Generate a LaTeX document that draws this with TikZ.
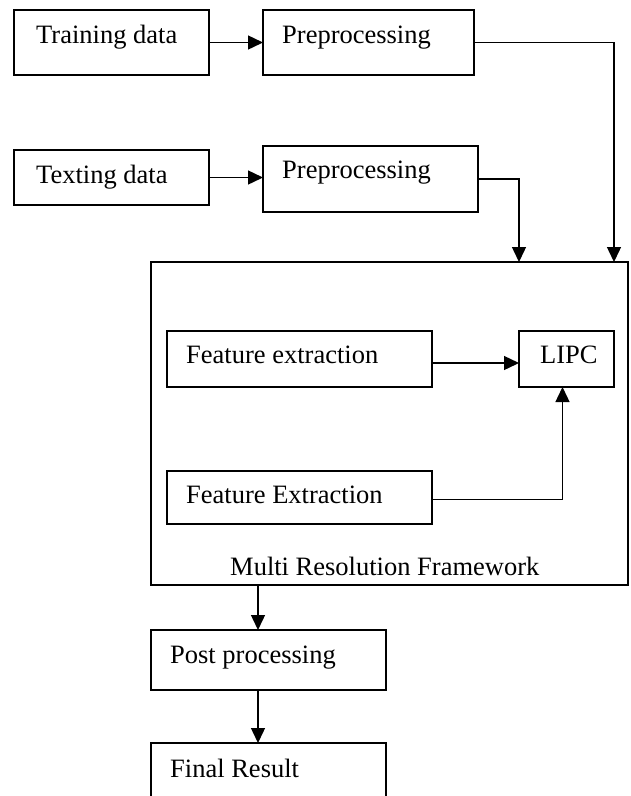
\documentclass[tikz,border=0pt]{standalone}
\usepackage{fontspec}
\setmainfont{Liberation Serif}
\usetikzlibrary{arrows.meta}

\tikzset{
  box/.style={draw, line width=1.4pt, rectangle, anchor=north west, inner sep=0pt, outer sep=0pt},
  lbl/.style={anchor=base west, inner sep=0pt, font=\fontsize{26.5}{30}\selectfont},
  flow/.style={line width=1.4pt, -{Triangle[length=15pt,width=14pt]}}
}

\begin{document}
\begin{tikzpicture}[x=1pt, y=-1pt]
  \useasboundingbox (0,0) rectangle (631,796);
  \clip (0,0) rectangle (631,796);

  % input boxes
  \node[box, minimum width=195pt, minimum height=65pt] (train) at (14,10) {};
  \node[box, minimum width=211pt, minimum height=65pt] (pre1) at (263,10) {};
  \node[box, minimum width=195pt, minimum height=55pt] (test) at (14,150) {};
  \node[box, minimum width=215pt, minimum height=66pt] (pre2) at (263,146) {};

  % multi-resolution framework and its inner blocks
  \node[box, minimum width=477pt, minimum height=323pt] (frame) at (151,262) {};
  \node[box, minimum width=265pt, minimum height=56pt] (fe1) at (167,331) {};
  \node[box, minimum width=95pt, minimum height=56pt] (lipc) at (519,331) {};
  \node[box, minimum width=265pt, minimum height=53pt] (fe2) at (167,471) {};

  % output boxes
  \node[box, minimum width=235pt, minimum height=60pt] (post) at (151,630) {};
  \node[box, minimum width=235pt, minimum height=80pt] (final) at (151,743) {};

  % labels
  \node[lbl] (trainT) at (36,43) {Training data};
  \node[lbl] (pre1T) at (282,43) {Preprocessing};
  \node[lbl] (testT) at (36,183) {Texting data};
  \node[lbl] (pre2T) at (282,178) {Preprocessing};
  \node[lbl] (fe1T) at (186,363) {Feature extraction};
  \node[lbl] (lipcT) at (540,363) {LIPC};
  \node[lbl] (fe2T) at (186,503) {Feature Extraction};
  \node[lbl] (frameT) at (230,575) {Multi Resolution Framework};
  \node[lbl] (postT) at (170,663) {Post processing};
  \node[lbl] (finalT) at (170,777) {Final Result};

  % exit point of the framework
  \coordinate (fout) at (258,585);

  % connectors
  \draw[flow] (train.east) -- (pre1.west);
  \draw[flow] (test.east) -- (test.east -| pre2.west);
  \draw[flow] (pre1.east) -| (lipc.east |- frame.north);
  \draw[flow] (pre2.east) -| (lipc.west |- frame.north);
  \draw[flow] ([yshift=-4pt]fe1.east) -- ([yshift=-4pt]lipc.west);
  \draw[flow] ([yshift=-2pt]fe2.east) -| ([xshift=-4pt]lipc.south);
  \draw[flow] (fout) -- (fout |- post.north);
  \draw[flow] (fout |- post.south) -- (fout |- final.north);
\end{tikzpicture}
\end{document}
